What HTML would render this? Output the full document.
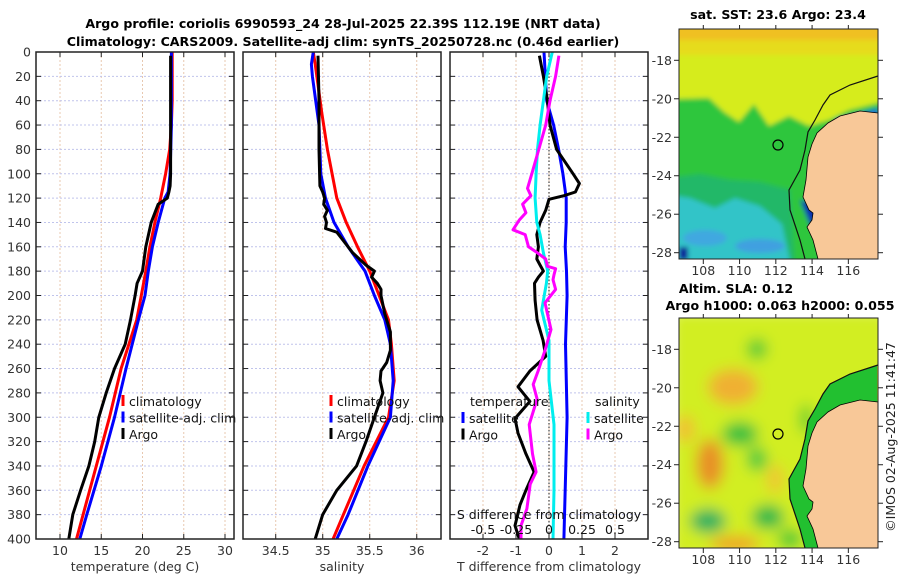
<!DOCTYPE html>
<html><head><meta charset="utf-8"><style>
body{margin:0;background:#fff;}
svg{display:block;font-family:"DejaVu Sans","Liberation Sans",sans-serif;}
</style></head><body>
<svg id="fig" width="900" height="580" viewBox="0 0 900 580">
<defs>
<filter id="b1"><feGaussianBlur stdDeviation="2.5"/></filter>
<filter id="b2"><feGaussianBlur stdDeviation="7"/></filter>
<clipPath id="c1"><rect x="679" y="29" width="199" height="230"/></clipPath>
<clipPath id="c2"><rect x="679" y="318" width="199" height="230"/></clipPath>
</defs>
<g font-weight="bold" font-size="12.6" text-anchor="middle" fill="#000">
<text x="343" y="28">Argo profile: coriolis 6990593_24 28-Jul-2025 22.39S 112.19E (NRT data)</text>
<text x="343" y="46">Climatology: CARS2009. Satellite-adj clim: synTS_20250728.nc (0.46d earlier)</text>
</g>
<g id="panels"></g>
<!-- SST map -->
<g clip-path="url(#c1)">
<g filter="url(#b1)">
<rect x="670" y="20" width="220" height="250" fill="#d6ec1e"/>
<rect x="670" y="20" width="220" height="22" fill="#f0c020"/>
<rect x="670" y="40" width="220" height="15" fill="#e6dc1a" />
<polygon points="670,99 709,98 724,112 739,122 754,104 769,126 789,116 809,126 829,120 849,110 890,100 890,270 670,270" fill="#2ec63c"/>
<polygon points="670,178 700,174 730,180 760,182 790,190 795,270 670,270" fill="#22b868"/>
<polygon points="670,195 690,198 715,208 735,198 760,206 782,224 792,270 670,270" fill="#30c4c8"/>
<ellipse cx="705" cy="238" rx="22" ry="8" fill="#40a8e0"/>
<ellipse cx="760" cy="246" rx="25" ry="7" fill="#40a0e0"/>
<rect x="679" y="247" width="9" height="13" fill="#0a1a98"/>
<polygon points="800,200 822,205 825,235 810,225" fill="#1030b0"/>
<polygon points="835,120 878,108 878,118 840,135" fill="#1a60d8"/>
</g>
</g>
<!-- SLA map -->
<g clip-path="url(#c2)">
<g filter="url(#b2)">
<rect x="670" y="310" width="220" height="250" fill="#d2ee22"/>
<ellipse cx="733" cy="387" rx="25" ry="18" fill="#f0b030"/>
<ellipse cx="710" cy="464" rx="14" ry="25" fill="#e89028"/>
<ellipse cx="685" cy="429" rx="10" ry="14" fill="#f0c030"/>
<ellipse cx="735" cy="544" rx="25" ry="8" fill="#f0a028"/>
<ellipse cx="775" cy="479" rx="8" ry="15" fill="#f0c430"/>
<ellipse cx="740" cy="434" rx="18" ry="12" fill="#34c040"/>
<ellipse cx="757" cy="459" rx="10" ry="12" fill="#40c840"/>
<ellipse cx="708" cy="521" rx="18" ry="12" fill="#20b060"/>
<ellipse cx="768" cy="517" rx="16" ry="12" fill="#20b84c"/>
<ellipse cx="757" cy="349" rx="10" ry="10" fill="#44c838"/>
<ellipse cx="806" cy="419" rx="6" ry="15" fill="#4ccc30"/>
<ellipse cx="790" cy="539" rx="12" ry="10" fill="#44c838"/>
</g>
<polygon points="877,365 850,374 830,384 823,394 815,409 808,421 805,439 800,459 789,479 790,499 795,514 800,529 805,548 878,548" fill="#22c030"/>
</g>
<g id="maps"></g>
<text transform="translate(895,437) rotate(-90)" text-anchor="middle" font-size="12.5" fill="#222">©IMOS 02-Aug-2025 11:41:47</text>
</svg>
<script>
// ---- data (depth in dbar) ----
const tArgoDepth=[3,20,40,60,80,100,110,115,120,125,140,160,180,190,200,220,240,260,280,300,320,340,360,380,400];
const tArgoVal=[23.4,23.4,23.4,23.4,23.4,23.4,23.35,23.2,23.0,21.9,21.05,20.4,20.0,19.35,19.1,18.55,17.9,16.6,15.6,14.7,14.2,13.5,12.5,11.55,11.07];
const tClimDepth=[0,40,60,80,100,120,140,160,180,200,220,260,300,340,380,400];
const tClimVal=[23.6,23.6,23.5,23.3,22.8,22.2,21.5,20.9,20.4,19.85,19.3,17.4,16.0,14.4,12.8,12.0];
const tSatDepth=[0,60,100,115,120,140,160,180,200,220,260,300,340,380,400];
const tSatVal=[23.5,23.5,23.35,23.1,22.7,21.9,21.2,20.7,20.3,19.5,18.0,16.6,15.0,13.25,12.4];
const sArgoDepth=[3,40,80,110,115,120,125,130,135,140,145,148,155,165,175,180,185,190,195,200,215,230,245,255,262,270,280,300,320,340,360,380,400];
const sArgoVal=[34.95,34.96,34.96,34.97,35.0,35.02,35.01,35.05,35.02,35.04,35.03,35.15,35.22,35.32,35.46,35.55,35.52,35.58,35.62,35.62,35.66,35.72,35.72,35.68,35.62,35.61,35.64,35.55,35.46,35.36,35.15,35.0,34.92];
const sClimDepth=[0,10,50,80,100,120,140,160,180,200,220,240,270,300,340,380,400];
const sClimVal=[34.9,34.92,34.99,35.05,35.1,35.15,35.25,35.37,35.5,35.6,35.7,35.73,35.76,35.7,35.44,35.22,35.11];
const sSatDepth=[0,10,20,60,100,120,140,160,180,200,220,240,270,300,340,380,400];
const sSatVal=[34.9,34.88,34.89,34.96,34.98,35.03,35.12,35.27,35.45,35.55,35.66,35.72,35.75,35.72,35.48,35.27,35.15];
// differences (temperature units; salinity shown x4)
const dTSatDepth=[0,40,60,80,100,120,140,160,180,200,240,300,350,400];
const dTSatVal=[-0.15,-0.07,0.14,0.29,0.42,0.52,0.52,0.49,0.53,0.55,0.5,0.55,0.5,0.45];
const dTArgoDepth=[3,20,40,60,80,90,100,108,115,118,121,130,140,150,160,170,175,180,185,190,204,220,237,250,262,275,287,301,313,330,345,360,372,389,400];
const dTArgoVal=[-0.29,-0.17,-0.05,0.03,0.23,0.48,0.73,0.92,0.8,0.45,0.0,-0.1,-0.27,-0.37,-0.32,-0.37,-0.27,-0.17,-0.32,-0.44,-0.42,-0.36,-0.18,-0.1,-0.58,-0.94,-0.58,-1.03,-0.94,-0.7,-0.45,-0.7,-0.88,-1.03,-0.9];
const dSSatDepth=[0,20,40,60,80,100,120,140,150,165,180,190,212,237,270,306,360,400];
const dSSatVal=[0.1,-0.07,-0.17,-0.27,-0.35,-0.39,-0.42,-0.37,-0.27,-0.17,-0.04,-0.08,-0.22,0.0,0.0,0.15,0.15,0.12];
const dSArgoDepth=[3,20,40,60,80,100,112,118,125,132,138,146,150,160,165,170,176,178,183,187,195,206,228,245,262,273,285,306,330,345,355,375,389,400];
const dSArgoVal=[0.3,0.2,0.03,-0.1,-0.31,-0.52,-0.65,-0.55,-0.8,-0.7,-0.9,-1.09,-0.72,-0.62,-0.35,-0.1,-0.05,0.2,0.15,0.12,0.2,-0.12,0.06,-0.12,-0.33,-0.48,-0.36,-0.6,-0.5,-0.39,-0.57,-0.67,-0.85,-0.85];
const depthTicks=[0,20,40,60,80,100,120,140,160,180,200,220,240,260,280,300,320,340,360,380,400];
const tTicks=[10,15,20,25,30];
const sTicks=[34.5,35,35.5,36];
const dTTicks=[-2,-1,0,1,2];
const dSTicks=["-0.5","-0.25","0","0.25","0.5"];

const NS="http://www.w3.org/2000/svg";
const root=document.getElementById('panels');
function mk(tag,attrs,parent){const e=document.createElementNS(NS,tag);for(const k in attrs)e.setAttribute(k,attrs[k]);(parent||root).appendChild(e);return e;}
const Y0=52,Y1=539;
const yD=d=>Y0+(d/400)*(Y1-Y0);
function panel(name,x0,x1,vmin,vmax,ticks,xlabel){
  const g=mk('g',{});
  
  
  const xs=v=>x0+(v-vmin)/(vmax-vmin)*(x1-x0);
  for(const t of ticks){mk('line',{x1:xs(t),x2:xs(t),y1:Y0,y2:Y1,stroke:'#e8c8b0','stroke-dasharray':'2,2','stroke-width':1},g);}
  for(const d of depthTicks){mk('line',{x1:x0,x2:x1,y1:yD(d),y2:yD(d),stroke:'#c0c4ec','stroke-dasharray':'2,2','stroke-width':1},g);
    mk('line',{x1:x0,x2:x0+5,y1:yD(d),y2:yD(d),stroke:'#222'},g);mk('line',{x1:x1-5,x2:x1,y1:yD(d),y2:yD(d),stroke:'#222'},g);}
  for(const t of ticks){mk('line',{x1:xs(t),x2:xs(t),y1:Y1-5,y2:Y1,stroke:'#222'},g);mk('line',{x1:xs(t),x2:xs(t),y1:Y0,y2:Y0+5,stroke:'#222'},g);
    const tx=mk('text',{x:xs(t),y:555,'text-anchor':'middle','font-size':12.5,fill:'#333'},g);tx.textContent=String(t);}
  const lab=mk('text',{x:(x0+x1)/2,y:571,'text-anchor':'middle','font-size':12.5,fill:'#333'},g);lab.textContent=xlabel;
  
  return {g,xs};
}
function line(p,name,ds,vs,color){
  const pts=ds.map((d,i)=>(p.xs(vs[i])).toFixed(1)+','+yD(d).toFixed(1)).join(' ');
  const l=mk('polyline',{points:pts,fill:'none',stroke:color,'stroke-width':3,'stroke-linejoin':'round'},p.g);
  
  
}
function frame(p,x0,x1){mk('rect',{x:x0,y:Y0,width:x1-x0,height:Y1-Y0,fill:'none',stroke:'#222','stroke-width':1.5},p.g);}
function legend(p,x,y,items){
  items.forEach((it,i)=>{
    const m=mk('rect',{x:x-1.5,y:y+i*16.5-6,width:3,height:11,fill:it[1]},p.g);
    
    const t=mk('text',{x:x+6,y:y+i*16.5+5,'font-size':12.5,fill:'#111'},p.g);t.textContent=it[0];
    
    
  });
}
const yl=mk('g',{});


for(const d of depthTicks){const t=mk('text',{x:31,y:yD(d)+4.5,'text-anchor':'end','font-size':12.5,fill:'#333'},yl);t.textContent=String(d);}

const p1=panel('temperature-panel',36,234,7.09,31.09,tTicks,'temperature (deg C)');
line(p1,'temp-climatology',tClimDepth,tClimVal,'#ff0000');
line(p1,'temp-satellite-clim',tSatDepth,tSatVal,'#0000ff');
line(p1,'temp-argo',tArgoDepth,tArgoVal,'#000');
legend(p1,123,401,[['climatology','#ff0000'],['satellite-adj. clim','#0000ff'],['Argo','#000']]);
frame(p1,36,234);

const p2=panel('salinity-panel',243,441,34.152,36.258,sTicks,'salinity');
line(p2,'sal-climatology',sClimDepth,sClimVal,'#ff0000');
line(p2,'sal-satellite-clim',sSatDepth,sSatVal,'#0000ff');
line(p2,'sal-argo',sArgoDepth,sArgoVal,'#000');
legend(p2,331,401,[['climatology','#ff0000'],['satellite-adj. clim','#0000ff'],['Argo','#000']]);
frame(p2,243,441);

const p3=panel('difference-panel',450,648,-3,3,dTTicks,'T difference from climatology');
mk('line',{x1:p3.xs(0),x2:p3.xs(0),y1:Y0,y2:Y1,stroke:'#444','stroke-dasharray':'1.5,2','stroke-width':1.2},p3.g);
line(p3,'tdiff-satellite',dTSatDepth,dTSatVal,'#0000ff');
line(p3,'tdiff-argo',dTArgoDepth,dTArgoVal,'#000');
line(p3,'sdiff-satellite',dSSatDepth,dSSatVal,'#00eeee');
line(p3,'sdiff-argo',dSArgoDepth,dSArgoVal,'#ff00ff');
legend(p3,463,418,[['satellite','#0000ff'],['Argo','#000']]);
legend(p3,588,418,[['satellite','#00eeee'],['Argo','#ff00ff']]);
{const t=mk('text',{x:470,y:406,'font-size':12.5,fill:'#111'},p3.g);t.textContent='temperature';
 const u=mk('text',{x:595,y:406,'font-size':12.5,fill:'#111'},p3.g);u.textContent='salinity';
 const s=mk('text',{x:549,y:519,'text-anchor':'middle','font-size':12.5,fill:'#111'},p3.g);s.textContent='S difference from climatology';
 dSTicks.forEach((v,i)=>{const q=mk('text',{x:p3.xs(dTTicks[i]),y:534,'text-anchor':'middle','font-size':12.5,fill:'#111'},p3.g);q.textContent=v;});}
frame(p3,450,648);

const mg=document.getElementById('maps');
const lonTicks=[108,110,112,114,116];
const latTicks=[-18,-20,-22,-24,-26,-28];
const lonX=l=>703.3+(l-108)*18.13;
function mapOverlay(name,top,title1,title2){
  const g=mk('g',{},mg);
  
  
  const latY=l=>top+31.3+(-18-l)*19.24;
  const off=top-29;
  mk('polygon',{points:[[878,113],[860,111],[840,116],[828,123],[817,133],[812,144],[808,157],[806,180],[803,197],[809,210],[813,213],[812,220],[807,227],[813,240],[818,259],[878,259]].map(p=>p[0]+','+(p[1]+off)).join(' '),fill:'#f8c898',stroke:'#000','stroke-width':0.8},g);
  mk('polyline',{points:[[878,76],[850,85],[830,95],[823,105],[815,120],[808,132],[805,150],[800,170],[789,190],[790,210],[795,225],[800,240],[805,259]].map(p=>p[0]+','+(p[1]+off)).join(' '),fill:'none',stroke:'#111','stroke-width':1.2},g);
  mk('circle',{cx:778,cy:145+off,r:5,fill:'none',stroke:'#000','stroke-width':1.2},g);
  mk('rect',{x:679,y:top,width:199,height:230,fill:'none',stroke:'#222','stroke-width':1},g);
  for(const l of latTicks){const y=latY(l);mk('line',{x1:679,x2:674,y1:y,y2:y,stroke:'#222'},g);mk('line',{x1:878,x2:883,y1:y,y2:y,stroke:'#222'},g);
    const t=mk('text',{x:672,y:y+4.5,'text-anchor':'end','font-size':12.5,fill:'#333'},g);t.textContent=String(l);}
  for(const l of lonTicks){const x=lonX(l);mk('line',{x1:x,x2:x,y1:top+230,y2:top+235,stroke:'#222'},g);mk('line',{x1:x,x2:x,y1:top,y2:top-4,stroke:'#222'},g);
    const t=mk('text',{x:x,y:top+246,'text-anchor':'middle','font-size':12.5,fill:'#333'},g);t.textContent=String(l);}
  const a=mk('text',{x:title2?736:778,y:title2?top-25:top-10,'text-anchor':'middle','font-size':12.6,'font-weight':'bold'},g);a.textContent=title1;
  if(title2){const b=mk('text',{x:780,y:top-8,'text-anchor':'middle','font-size':12.6,'font-weight':'bold'},g);b.textContent=title2;}
}
mapOverlay('sst-map-frame',29,'sat. SST: 23.6 Argo: 23.4');
mapOverlay('sla-map-frame',318,'Altim. SLA: 0.12','Argo h1000: 0.063 h2000: 0.055');
</script>
</body></html>
